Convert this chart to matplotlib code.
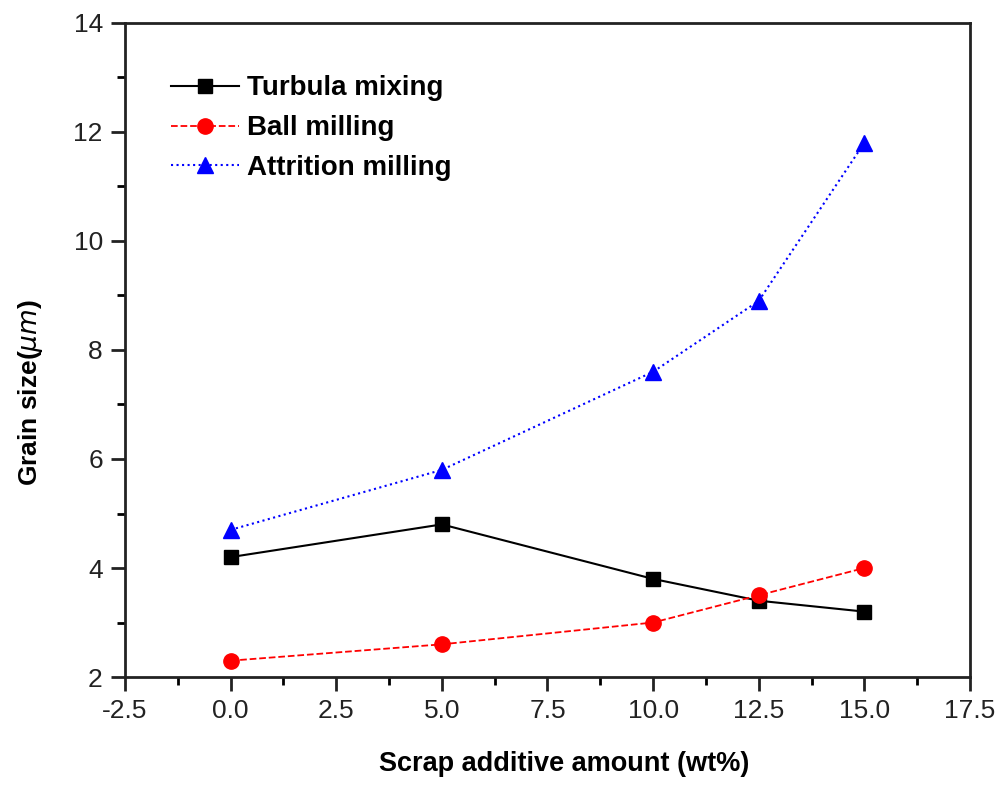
import matplotlib
matplotlib.use('Agg')
import matplotlib.pyplot as plt
from matplotlib.ticker import MultipleLocator, FormatStrFormatter

# values
scrap = [0.0, 5.0, 10.0, 12.5, 15.0]
turbula = [4.2, 4.8, 3.8, 3.4, 3.2]
ball = [2.3, 2.6, 3.0, 3.5, 4.0]
attrition = [4.7, 5.8, 7.6, 8.9, 11.8]

plt.rcParams['font.family'] = ['Liberation Sans', 'DejaVu Sans']
plt.rcParams['axes.unicode_minus'] = False

fig = plt.figure(figsize=(10.03, 7.9), dpi=100)
ax = fig.add_axes([0.1246, 0.143, 0.8425, 0.828])

ax.plot(scrap, turbula, color='black', ls='-', lw=1.5, marker='s', ms=10,
        label='Turbula mixing')
ax.plot(scrap, ball, color='red', ls='--', lw=1.3, marker='o', ms=11,
        label='Ball milling')
ax.plot(scrap, attrition, color='blue', ls=':', lw=1.5, marker='^', ms=12,
        label='Attrition milling')

ax.set_xlim(-2.5, 17.5)
ax.set_ylim(2, 14)
ax.xaxis.set_major_locator(MultipleLocator(2.5))
ax.xaxis.set_minor_locator(MultipleLocator(1.25))
ax.yaxis.set_major_locator(MultipleLocator(2))
ax.yaxis.set_minor_locator(MultipleLocator(1))
ax.xaxis.set_major_formatter(FormatStrFormatter('%.1f'))
ax.tick_params(which='major', direction='out', length=10, width=2,
               labelsize=19, colors='#222222', pad=6)
ax.tick_params(which='minor', direction='out', length=6, width=2)
for s in ax.spines.values():
    s.set_linewidth(2)
    s.set_color('#222222')

ax.set_xlabel('Scrap additive amount (wt%)', fontsize=19.5, fontweight='bold')
ax.set_ylabel(r'Grain size($\mathit{\mu m}$)', fontsize=19, fontweight='bold')
ax.xaxis.set_label_coords(0.5195, -0.113)
ax.yaxis.set_label_coords(-0.095, 0.4356)

leg = ax.legend(loc='upper left', bbox_to_anchor=(0.025, 0.958), frameon=False,
                prop={'size': 20, 'weight': 'bold'},
                handlelength=2.45, handletextpad=0.3, labelspacing=0.5)

fig.savefig('out.png', dpi=100)
